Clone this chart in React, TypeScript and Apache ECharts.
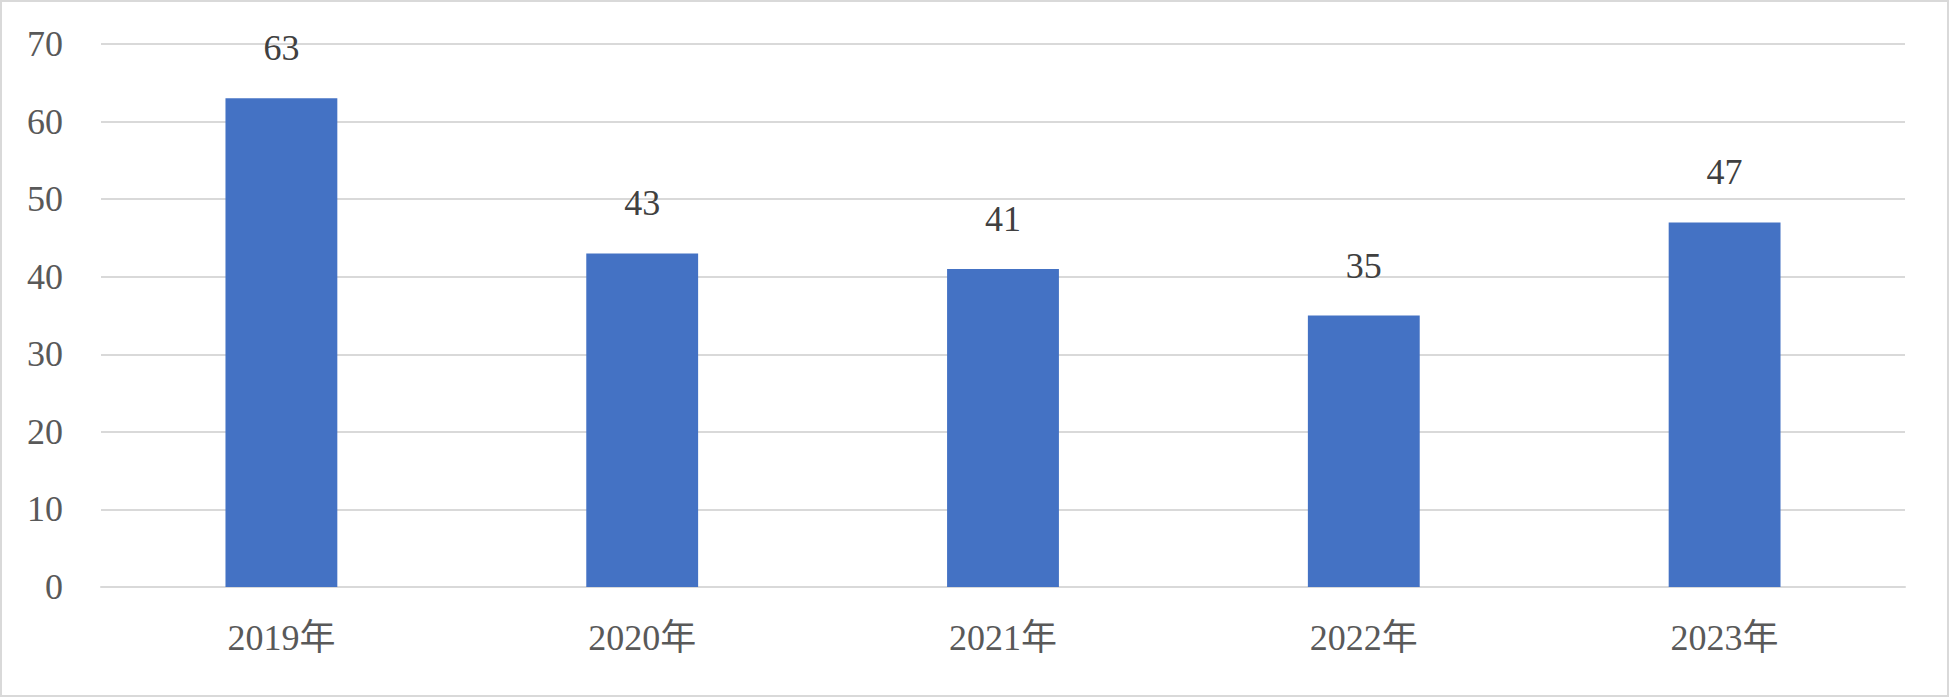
import React, { useEffect, useRef } from "react";
import * as echarts from "echarts";

const categories = ["2019年", "2020年", "2021年", "2022年", "2023年"];
const values = [63, 43, 41, 35, 47];
const yTicks = { min: 0, max: 70, interval: 10 };

const FONT = "'Liberation Serif', 'DejaVu Serif', 'Noto Sans CJK JP', serif";

export default function App() {
  const ref = useRef<HTMLDivElement>(null);
  useEffect(() => {
    document.body.style.margin = "0";
    const chart = echarts.init(ref.current!, null, { renderer: "svg" });
    chart.setOption({
      animation: false,
      backgroundColor: "#ffffff",
      grid: { left: 101, right: 45, top: 44, bottom: 111, containLabel: false },
      graphic: [
        {
          type: "rect",
          shape: { x: 1, y: 1, width: 1947, height: 695 },
          style: { fill: "none", stroke: "#D9D9D9", lineWidth: 2 },
          silent: true,
        },
      ],
      xAxis: {
        type: "category",
        data: categories,
        axisLine: { show: true, lineStyle: { color: "#D9D9D9", width: 2 } },
        axisTick: { show: false },
        axisLabel: { color: "#595959", fontSize: 36, fontFamily: FONT, margin: 33 },
      },
      yAxis: {
        type: "value",
        min: yTicks.min,
        max: yTicks.max,
        interval: yTicks.interval,
        axisLine: { show: false },
        axisTick: { show: false },
        splitLine: { lineStyle: { color: "#D9D9D9", width: 2 } },
        axisLabel: { color: "#595959", fontSize: 36, fontFamily: FONT, margin: 38 },
      },
      series: [
        {
          type: "bar",
          data: values,
          barWidth: "31%",
          itemStyle: { color: "#4472C4" },
          label: {
            show: true,
            position: "top",
            distance: 32,
            color: "#404040",
            fontSize: 36,
            fontFamily: FONT,
          },
        },
      ],
    });
    return () => chart.dispose();
  }, []);
  return (
    <div
      ref={ref}
      style={{ position: "absolute", left: 0, top: 0, width: 1950, height: 698 }}
    />
  );
}
